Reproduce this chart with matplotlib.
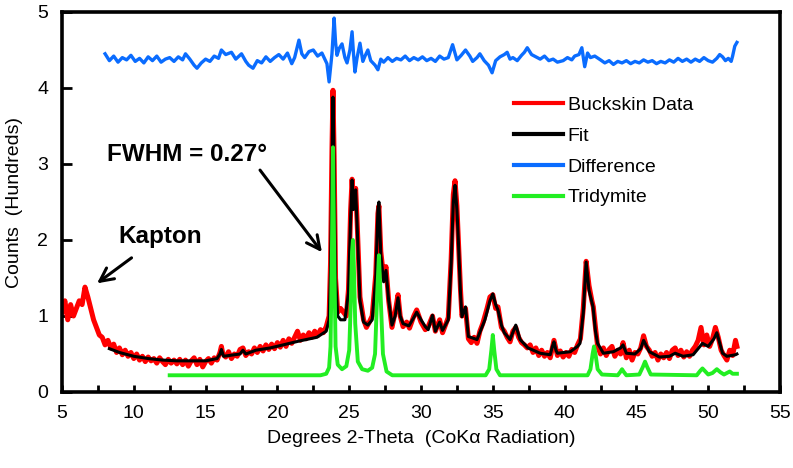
import matplotlib
matplotlib.use("Agg")
import matplotlib.pyplot as plt

plt.rcParams['font.family'] = ['Liberation Sans', 'DejaVu Sans']

# ---------------- data ----------------
data_x = [5.0, 5.2, 5.4, 5.6, 5.8, 6.0, 6.2, 6.4, 6.6, 6.8, 7.0, 7.2, 7.4, 7.6, 7.8, 8.0, 8.2, 8.4, 8.6, 8.8,
          9.0, 9.2, 9.4, 9.6, 9.8, 10.0, 10.2, 10.4, 10.6, 10.8, 11.0, 11.2, 11.4, 11.6, 11.8, 12.0, 12.2, 12.4,
          12.6, 12.8, 13.0, 13.2, 13.4, 13.6, 13.8, 14.0, 14.2, 14.4, 14.6, 14.8, 15.0, 15.2, 15.4, 15.6, 15.8,
          16.0, 16.1, 16.2, 16.4, 16.6, 16.8, 17.0, 17.2, 17.4, 17.6, 17.8, 18.0, 18.2, 18.4, 18.6, 18.8, 19.0,
          19.2, 19.4, 19.6, 19.8, 20.0, 20.2, 20.4, 20.6, 20.8, 21.0, 21.2, 21.4, 21.6, 21.8, 22.0, 22.2, 22.4,
          22.6, 22.8, 23.0, 23.2, 23.4, 23.6, 23.7, 23.8, 23.87, 23.95, 24.05, 24.2, 24.4, 24.6, 24.8, 24.95,
          25.1, 25.2, 25.3, 25.45, 25.55, 25.75, 26.0, 26.2, 26.4, 26.6, 26.85, 27.0, 27.07, 27.2, 27.4, 27.56,
          27.75, 27.98, 28.2, 28.4, 28.55, 28.75, 29.0, 29.2, 29.5, 29.7, 30.0, 30.3, 30.5, 30.8, 31.0, 31.3,
          31.5, 31.9, 32.1, 32.25, 32.37, 32.5, 32.6, 32.75, 32.85, 33.1, 33.3, 33.5, 33.7, 33.9, 34.1, 34.3,
          34.45, 34.6, 34.8, 35.0, 35.2, 35.36, 35.6, 35.8, 36.0, 36.2, 36.4, 36.6, 36.8, 37.0, 37.2, 37.4,
          37.6, 37.8, 38.0, 38.2, 38.4, 38.6, 38.8, 39.0, 39.26, 39.5, 39.7, 39.9, 40.1, 40.3, 40.5, 40.7,
          40.9, 41.1, 41.3, 41.5, 41.7, 41.9, 42.0, 42.15, 42.3, 42.5, 42.7, 42.9, 43.1, 43.3, 43.5, 43.7,
          43.9, 44.07, 44.3, 44.5, 44.7, 44.9, 45.1, 45.3, 45.5, 45.7, 45.9, 46.1, 46.3, 46.5, 46.7, 46.9,
          47.1, 47.3, 47.5, 47.7, 47.9, 48.1, 48.3, 48.5, 48.7, 48.9, 49.1, 49.3, 49.5, 49.7, 49.9, 50.1,
          50.3, 50.5, 50.7, 50.9, 51.1, 51.3, 51.5, 51.7, 51.9, 52.0]
data_y = [1.05, 1.2, 0.95, 1.15, 1.0, 1.1, 1.2, 1.15, 1.38, 1.25, 1.1, 0.95, 0.85, 0.75, 0.72, 0.62, 0.68, 0.58, 0.63, 0.52,
          0.58, 0.49, 0.55, 0.47, 0.52, 0.44, 0.5, 0.42, 0.47, 0.4, 0.46, 0.41, 0.44, 0.38, 0.45, 0.4, 0.36, 0.43,
          0.38, 0.42, 0.37, 0.43, 0.36, 0.42, 0.34, 0.41, 0.45, 0.36, 0.43, 0.33, 0.4, 0.44, 0.38, 0.45, 0.42,
          0.52, 0.6, 0.5, 0.46, 0.53, 0.44, 0.5, 0.47, 0.56, 0.58, 0.48, 0.53, 0.5, 0.58, 0.52, 0.6, 0.54,
          0.62, 0.56, 0.63, 0.57, 0.65, 0.59, 0.68, 0.6, 0.7, 0.64, 0.72, 0.8, 0.68, 0.75, 0.7, 0.78, 0.72,
          0.8, 0.74, 0.82, 0.78, 0.86, 1.0, 1.7, 3.2, 3.97, 3.1, 1.5, 1.05, 1.1, 1.05, 1.0, 1.35,
          2.4, 2.8, 2.45, 2.68, 2.25, 1.25, 0.95, 0.85, 0.92, 1.0, 1.55, 2.35, 2.45, 1.85, 1.5, 1.65,
          1.2, 0.85, 1.05, 1.28, 1.0, 0.86, 0.92, 0.84, 1.0, 1.08, 0.92, 0.82, 0.86, 1.0, 0.8, 0.95,
          0.78, 0.98, 1.75, 2.6, 2.78, 2.45, 2.0, 1.35, 1.0, 1.1, 0.7, 0.65, 0.72, 0.64, 0.8, 0.9,
          1.0, 1.1, 1.25, 1.28, 1.1, 1.12, 0.85, 0.8, 0.72, 0.66, 0.8, 0.85, 0.72, 0.65, 0.62, 0.58,
          0.62, 0.52, 0.58, 0.48, 0.55, 0.47, 0.52, 0.45, 0.68, 0.48, 0.54, 0.46, 0.52, 0.47, 0.56, 0.52,
          0.62, 0.7, 1.1, 1.72, 1.4, 1.2, 1.12, 0.85, 0.6, 0.5, 0.58, 0.48, 0.56, 0.6, 0.47, 0.55,
          0.5, 0.65, 0.45, 0.55, 0.42, 0.52, 0.5, 0.58, 0.74, 0.6, 0.55, 0.47, 0.52, 0.42, 0.5, 0.45,
          0.52, 0.44, 0.55, 0.58, 0.48, 0.55, 0.46, 0.53, 0.47, 0.55, 0.6, 0.68, 0.85, 0.62, 0.75, 0.6,
          0.7, 0.85, 0.72, 0.55, 0.48, 0.42, 0.55, 0.48, 0.68, 0.6]

fit_x = [8.3, 9.0, 10.0, 11.0, 12.0, 13.0, 14.0, 15.0, 15.8, 16.0, 16.1, 16.25, 17.0, 17.4, 17.6, 17.8, 18.5,
         19.5, 20.4, 21.5, 22.75, 23.4, 23.6, 23.7, 23.8, 23.87, 23.95, 24.05, 24.2, 24.4, 24.7, 24.95, 25.1,
         25.2, 25.3, 25.45, 25.55, 25.75, 26.0, 26.3, 26.6, 26.85, 27.0, 27.07, 27.2, 27.4, 27.56, 27.75,
         27.98, 28.2, 28.4, 28.55, 28.75, 29.16, 29.5, 29.7, 30.0, 30.3, 30.5, 30.8, 31.0, 31.3, 31.5, 31.9,
         32.1, 32.25, 32.37, 32.5, 32.6, 32.75, 32.85, 33.1, 33.3, 33.9, 34.45, 34.8, 35.0, 35.2, 35.36,
         35.6, 35.8, 36.2, 36.6, 36.9, 37.45, 38.3, 39.0, 39.15, 39.26, 39.4, 39.5, 40.4, 40.9, 41.07, 41.3,
         41.5, 41.7, 41.98, 42.15, 42.3, 42.7, 43.4, 43.9, 44.07, 44.3, 44.9, 45.3, 45.5, 45.9, 46.6, 47.3,
         47.7, 48.25, 48.95, 49.6, 50.0, 50.4, 50.6, 51.0, 51.3, 51.9, 52.0]
fit_y = [0.57, 0.52, 0.47, 0.44, 0.42, 0.41, 0.41, 0.41, 0.44, 0.5, 0.56, 0.47, 0.49, 0.5, 0.55, 0.5, 0.55,
         0.58, 0.62, 0.67, 0.72, 0.8, 0.95, 1.6, 3.0, 3.88, 3.0, 1.5, 1.0, 0.95, 0.95, 1.3, 2.3,
         2.79, 2.4, 2.66, 2.2, 1.2, 0.92, 0.88, 0.95, 1.5, 2.4, 2.5, 1.8, 1.45, 1.6, 1.2,
         0.88, 1.0, 1.24, 1.0, 0.9, 0.87, 0.98, 1.05, 0.95, 0.86, 0.82, 1.01, 0.8, 0.92, 0.81, 0.95,
         1.7, 2.5, 2.72, 2.4, 2.0, 1.3, 0.99, 1.12, 0.73, 0.69, 0.95, 1.2, 1.29, 1.15, 1.08,
         0.88, 0.78, 0.69, 0.88, 0.69, 0.58, 0.51, 0.49, 0.6, 0.66, 0.55, 0.51, 0.53, 0.6, 0.64, 1.04,
         1.71, 1.34, 1.12, 0.8, 0.64, 0.51, 0.53, 0.58, 0.62, 0.51, 0.5, 0.57, 0.68, 0.53, 0.46, 0.47,
         0.51, 0.47, 0.49, 0.64, 0.6, 0.7, 0.78, 0.51, 0.47, 0.49, 0.5]

diff_x = [8.0, 8.3, 8.6, 8.9, 9.2, 9.5, 9.8, 10.1, 10.4, 10.7, 11.0, 11.3, 11.6, 11.9, 12.2, 12.5, 12.8, 13.1,
          13.4, 13.6, 13.9, 14.2, 14.4, 14.7, 15.0, 15.3, 15.6, 15.9, 16.1, 16.4, 16.8, 17.1, 17.5, 17.8,
          18.0, 18.3, 18.6, 18.9, 19.2, 19.5, 19.8, 20.1, 20.4, 20.7, 21.0, 21.2, 21.5, 21.7, 21.9, 22.2,
          22.5, 22.8, 23.1, 23.3, 23.45, 23.6, 23.8, 23.95, 24.05, 24.15, 24.3, 24.5, 24.7, 24.85, 25.05,
          25.2, 25.3, 25.4, 25.55, 25.75, 25.95, 26.1, 26.3, 26.5, 26.8, 27.0, 27.2, 27.4, 27.7, 28.0, 28.3,
          28.6, 28.9, 29.2, 29.5, 29.8, 30.1, 30.4, 30.7, 31.0, 31.3, 31.6, 31.9, 32.2, 32.5, 32.8, 33.1,
          33.4, 33.6, 33.9, 34.1, 34.4, 34.7, 34.95, 35.2, 35.5, 35.8, 36.0, 36.2, 36.4, 36.7, 37.0, 37.2,
          37.4, 37.7, 38.0, 38.3, 38.6, 38.9, 39.2, 39.5, 39.9, 40.2, 40.5, 40.7, 41.0, 41.2, 41.4, 41.6,
          41.8, 42.1, 42.5, 42.8, 43.1, 43.4, 43.7, 44.0, 44.3, 44.6, 44.9, 45.2, 45.5, 45.8, 46.1, 46.4,
          46.7, 47.0, 47.3, 47.6, 47.9, 48.2, 48.5, 48.8, 49.1, 49.4, 49.7, 50.0, 50.3, 50.6, 50.8, 51.0,
          51.2, 51.4, 51.6, 51.7, 51.85, 52.0]
diff_y = [4.45, 4.36, 4.42, 4.34, 4.4, 4.37, 4.43, 4.35, 4.39, 4.33, 4.41, 4.36, 4.42, 4.34, 4.38, 4.4, 4.35,
          4.41, 4.37, 4.45, 4.38, 4.3, 4.26, 4.33, 4.38, 4.35, 4.42, 4.39, 4.5, 4.44, 4.47, 4.38, 4.45, 4.35,
          4.3, 4.26, 4.36, 4.33, 4.41, 4.35, 4.4, 4.44, 4.38, 4.46, 4.32, 4.4, 4.63, 4.45, 4.4, 4.48,
          4.5, 4.42, 4.46, 4.38, 4.32, 4.08, 4.45, 4.92, 4.6, 4.43, 4.52, 4.58, 4.4, 4.33, 4.5,
          4.74, 4.45, 4.21, 4.4, 4.59, 4.35, 4.42, 4.5, 4.36, 4.3, 4.24, 4.38, 4.34, 4.4, 4.35, 4.39,
          4.37, 4.42, 4.36, 4.4, 4.37, 4.41, 4.36, 4.39, 4.35, 4.42, 4.38, 4.4, 4.57, 4.37, 4.43, 4.5,
          4.42, 4.35, 4.4, 4.45, 4.36, 4.3, 4.2, 4.36, 4.41, 4.44, 4.47, 4.38, 4.4, 4.36, 4.43, 4.47,
          4.53, 4.44, 4.41, 4.38, 4.42, 4.36, 4.38, 4.34, 4.36, 4.4, 4.37, 4.42, 4.44, 4.53, 4.28, 4.46,
          4.4, 4.42, 4.37, 4.33, 4.36, 4.31, 4.35, 4.33, 4.36, 4.32, 4.35, 4.33, 4.37, 4.34, 4.36, 4.32,
          4.35, 4.33, 4.37, 4.34, 4.39, 4.35, 4.38, 4.34, 4.38, 4.35, 4.4, 4.36, 4.34, 4.39, 4.44, 4.41,
          4.36, 4.39, 4.35, 4.42, 4.55, 4.6]

trid_x = [12.5, 23.0, 23.4, 23.6, 23.7, 23.8, 23.87, 23.95, 24.05, 24.2, 24.5, 24.8, 25.0, 25.1, 25.2, 25.26,
          25.32, 25.42, 25.6, 25.9, 26.3, 26.6, 26.8, 26.95, 27.07, 27.18, 27.35, 27.6, 28.0, 34.5, 34.75,
          34.9, 35.0, 35.1, 35.25, 35.5, 41.6, 41.8, 41.95, 42.05, 42.15, 42.3, 42.6, 43.7, 43.9, 44.0,
          44.1, 44.3, 45.2, 45.45, 45.6, 45.75, 46.0, 49.2, 49.45, 49.6, 49.75, 50.0, 50.3, 50.6, 50.85,
          51.1, 51.3, 51.5, 51.7, 52.0]
trid_y = [0.22, 0.22, 0.24, 0.32, 0.6, 1.9, 3.22, 1.9, 0.6, 0.36, 0.3, 0.34, 0.55, 1.1, 1.85, 2.0,
          1.7, 0.9, 0.4, 0.3, 0.28, 0.32, 0.5, 1.3, 1.8, 1.3, 0.5, 0.27, 0.22, 0.22, 0.3,
          0.55, 0.75, 0.55, 0.3, 0.22, 0.22, 0.3, 0.5, 0.6, 0.5, 0.3, 0.23, 0.22, 0.27, 0.3,
          0.27, 0.22, 0.23, 0.33, 0.4, 0.33, 0.23, 0.22, 0.28, 0.31, 0.28, 0.23, 0.25, 0.3, 0.26,
          0.23, 0.25, 0.27, 0.24, 0.24]

series_labels = ['Buckskin Data', 'Fit', 'Difference', 'Tridymite']
x_ticks = [5, 10, 15, 20, 25, 30, 35, 40, 45, 50, 55]
y_ticks = [0, 1, 2, 3, 4, 5]

# ---------------- figure ----------------
fig = plt.figure(figsize=(7.93, 4.68), dpi=100)
ax = fig.add_axes([62 / 793, 1 - 392 / 468, 718 / 793, 380 / 468])

ax.plot(data_x, data_y, color='#ff0000', lw=3.6, label=series_labels[0], zorder=2)
ax.plot(fit_x, fit_y, color='black', lw=2.2, label=series_labels[1], zorder=3)
ax.plot(diff_x, diff_y, color='#0a6cff', lw=2.4, label=series_labels[2], zorder=3)
ax.plot(trid_x, trid_y, color='#22ee22', lw=2.8, label=series_labels[3], zorder=4)

ax.set_xlim(5, 55)
ax.set_ylim(0, 5)
ax.set_xticks(x_ticks)
ax.set_yticks(y_ticks)
ax.set_xticks([7.5 + 5 * i for i in range(10)], minor=True)
ax.tick_params(axis='both', which='both', direction='in', width=2, length=5,
               labelsize=14, top=False, right=False)
ax.tick_params(axis='y', which='major', length=7, pad=10)
ax.tick_params(axis='x', pad=9)
for s in ax.spines.values():
    s.set_linewidth(2.6)

ax.set_xlabel('Degrees 2-Theta  (CoK\u03b1 Radiation)', fontsize=14, labelpad=6)
ax.set_ylabel('Counts  (Hundreds)', fontsize=14, labelpad=10)

leg = ax.legend(loc='upper left', bbox_to_anchor=(0.630, 0.778), frameon=False, fontsize=14,
                handlelength=2.5, handletextpad=0.25, labelspacing=0.68, borderaxespad=0, borderpad=0)
for line in leg.get_lines():
    line.set_linewidth(3)

ax.annotate('Kapton', xy=(7.44, 1.43), xytext=(8.9, 2.04), fontsize=17.5, fontweight='bold',
            va='center', ha='left',
            arrowprops=dict(arrowstyle='->', lw=2.2, color='black', mutation_scale=24,
                            shrinkA=8, shrinkB=0))
ax.annotate('FWHM = 0.27\u00b0', xy=(23.1, 1.84), xytext=(8.13, 3.12), fontsize=17.5, fontweight='bold',
            va='center', ha='left')
ax.annotate('', xy=(23.1, 1.84), xytext=(18.79, 2.92),
            arrowprops=dict(arrowstyle='->', lw=2.2, color='black', mutation_scale=24,
                            shrinkA=0, shrinkB=0))

fig.savefig('out.png', dpi=100)
